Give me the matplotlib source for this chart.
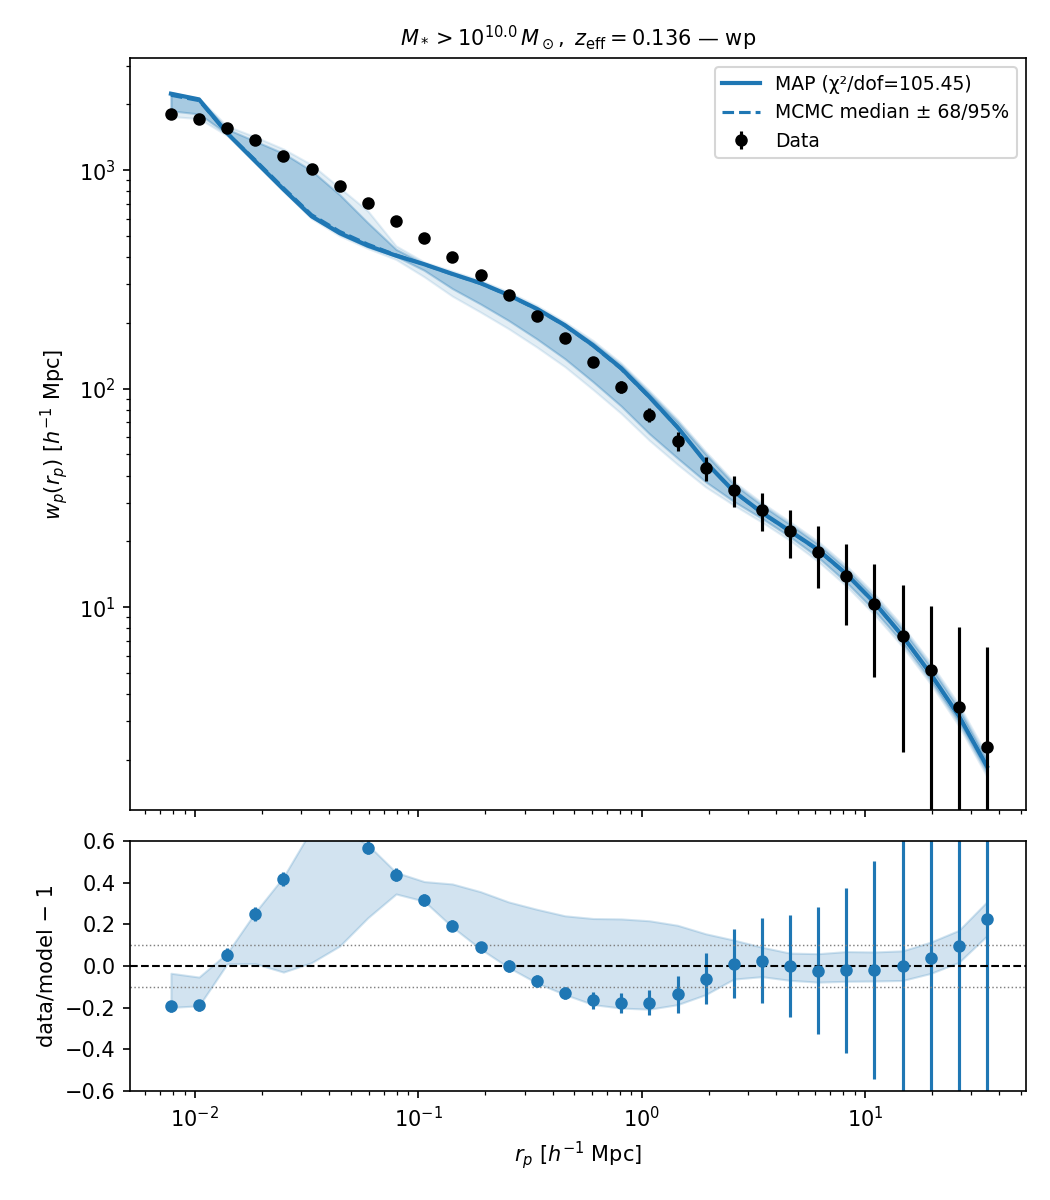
import matplotlib
matplotlib.use("Agg")
import matplotlib.pyplot as plt
import numpy as np

# projected separation bins [h^-1 Mpc]
rp = [0.00781, 0.01043, 0.01394, 0.01864, 0.02491, 0.0333, 0.04451, 0.0595,
      0.07954, 0.1063, 0.1421, 0.19, 0.2539, 0.3394, 0.4536, 0.6063, 0.8104,
      1.083, 1.448, 1.935, 2.586, 3.456, 4.619, 6.174, 8.252, 11.03, 14.74,
      19.7, 26.34, 35.2]

# measured wp and errors
wp_data = [1803, 1711, 1556, 1371, 1159, 1010, 845, 707, 584, 489, 400, 331,
           268, 215, 170, 132, 102, 75.7, 57.5, 43.3, 34.3, 27.8, 22.3, 17.9,
           13.9, 10.3, 7.37, 5.15, 3.49, 2.29]
wp_err = [60, 55, 45, 35, 27, 20, 17, 14, 12, 11, 9.5, 8.5, 7.5, 6.5, 5.8,
          6.4, 6.2, 5.7, 5.9, 5.6, 5.6, 5.5, 5.5, 5.6, 5.6, 5.5, 5.2, 5.0,
          4.6, 4.3]

# best fit (MAP) model
wp_map = [2237, 2107, 1476, 1097, 817, 615, 515, 451, 406, 371, 335, 304,
          268, 232, 195, 158, 124, 91.8, 66.6, 46.1, 33.9, 27.1, 22.3, 18.3,
          14.2, 10.5, 7.38, 4.95, 3.18, 1.87]

# MCMC posterior: median and 68/95% bands
wp_med = [2200, 2080, 1478, 1112, 830, 625, 524, 458, 409, 370, 334, 303,
          267, 231, 194, 157, 123, 91.3, 66.3, 46.0, 33.8, 27.0, 22.2, 18.2,
          14.15, 10.45, 7.35, 4.93, 3.17, 1.86]
lo68 = [1868, 1807, 1465, 1090, 812, 610, 510, 447, 403, 348, 287, 244, 205,
        169, 137, 107.5, 83.2, 62.2, 48.1, 37.5, 30.5, 25.5, 21.0, 16.9, 13.0,
        9.65, 6.87, 4.62, 2.98, 1.75]
hi68 = [2250, 2115, 1540, 1356, 1194, 994, 771, 574, 434, 373, 337, 306, 270,
        234, 197, 162, 127.8, 95.5, 70.6, 50.2, 36.6, 29.3, 23.95, 19.4, 15.0,
        11.1, 7.92, 5.34, 3.43, 2.0]
lo95 = [1760, 1720, 1440, 1075, 800, 600, 500, 438, 390, 325, 265, 224, 188,
        155, 126, 99, 77, 58, 45, 35.5, 29.3, 24.5, 20.2, 16.2, 12.5, 9.25,
        6.6, 4.45, 2.86, 1.68]
hi95 = [2265, 2130, 1590, 1420, 1250, 1060, 830, 650, 450, 380, 345, 313, 277,
        240, 202, 166, 131, 98, 72.5, 51.6, 37.6, 30.1, 24.6, 20.0, 15.5, 11.5,
        8.2, 5.55, 3.58, 2.1]

chi2_dof = 105.45

rp = np.array(rp)
wp_data = np.array(wp_data)
wp_err = np.array(wp_err)
wp_map = np.array(wp_map)

fig = plt.figure(figsize=(7, 8), dpi=150)
ax = fig.add_axes([0.1238, 0.325, 0.8533, 0.6267])
axr = fig.add_axes([0.1238, 0.0908, 0.8533, 0.2084], sharex=ax)

ax.fill_between(rp, lo95, hi95, color="C0", alpha=0.12)
ax.fill_between(rp, lo68, hi68, color="C0", alpha=0.3)
ax.plot(rp, wp_map, color="C0", lw=2, label=f"MAP (χ²/dof={chi2_dof:.2f})")
ax.plot(rp, wp_med, color="C0", lw=1.5, ls="--", label="MCMC median ± 68/95%")
ax.errorbar(rp, wp_data, yerr=wp_err, fmt="o", color="k", ms=5, elinewidth=1.5,
            label="Data")
ax.set_xscale("log")
ax.set_yscale("log")
ax.set_xlim(0.00512, 52.6)
ax.set_ylim(1.18, 3260)
ax.set_ylabel(r"$w_p(r_p)$ [$h^{-1}$ Mpc]")
ax.set_title(r"$M_* > 10^{10.0}\,M_\odot,\ z_{\rm eff} = 0.136$ — wp", fontsize=10)
ax.legend(loc="upper right", fontsize=9)
ax.tick_params(labelbottom=False)

# residuals
ratio = wp_data / wp_map - 1
ratio_err = wp_err / wp_map
axr.fill_between(rp, wp_data / np.array(hi68) - 1, wp_data / np.array(lo68) - 1,
                 color="C0", alpha=0.2)
axr.errorbar(rp, ratio, yerr=ratio_err, fmt="o", color="C0", ms=5, elinewidth=1.5)
axr.axhline(0, color="k", ls="--", lw=1)
axr.axhline(0.1, color="gray", ls=":", lw=0.7)
axr.axhline(-0.1, color="gray", ls=":", lw=0.7)
axr.set_ylim(-0.6, 0.6)
axr.set_xlabel(r"$r_p$ [$h^{-1}$ Mpc]")
axr.set_ylabel("data/model − 1")

fig.savefig("out.png", dpi=150)
